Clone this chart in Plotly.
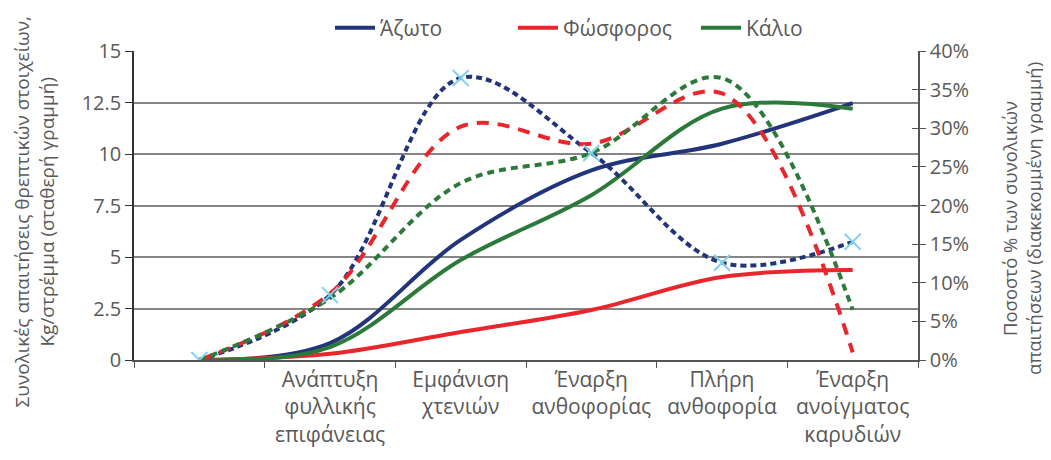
import plotly.graph_objects as go

categories = ["", "Ανάπτυξη<br>φυλλικής<br>επιφάνειας", "Εμφάνιση<br>χτενιών",
              "Έναρξη<br>ανθοφορίας", "Πλήρη<br>ανθοφορία", "Έναρξη<br>ανοίγματος<br>καρυδιών"]

# Total requirements, Kg/στρέμμα (solid lines, left axis)
n_total = [0, 0.82, 5.83, 9.2, 10.5, 12.47]
p_total = [0, 0.3, 1.36, 2.43, 4.03, 4.37]
k_total = [0, 0.63, 4.85, 8.0, 12.2, 12.2]

# Percentage of total requirements (dashed lines, right axis)
n_pct = [0, 8.4, 36.5, 26.8, 12.6, 15.3]
p_pct = [0, 8.6, 30.2, 28.0, 34.5, 1.0]
k_pct = [0, 8.0, 22.9, 26.8, 36.5, 6.5]

names = ["Άζωτο", "Φώσφορος", "Κάλιο"]
colors = ["#22357a", "#e8262b", "#2c7a3a"]
dashes = ["6px,4px", "12px,9px", "7px,5px"]

left_title = "Συνολικές απαιτήσεις θρεπτικών στοιχείων,<br>Kg/στρέμμα (σταθερή γραμμή)"
right_title = "Ποσοστό % των συνολικών<br>απαιτήσεων (διακεκομμένη γραμμή)"

FONT = "Open Sans"
TXT = "#595959"

fig = go.Figure()

for name, vals, col in zip(names, [n_total, p_total, k_total], colors):
    fig.add_trace(go.Scatter(x=categories, y=vals, name=name, mode="lines",
                             line=dict(color=col, width=4, shape="spline", smoothing=1),
                             yaxis="y"))

for name, vals, col, dsh in zip(names, [n_pct, p_pct, k_pct], colors, dashes):
    fig.add_trace(go.Scatter(x=categories, y=vals, name=name + " %", mode="lines",
                             line=dict(color=col, width=4, shape="spline", smoothing=1, dash=dsh),
                             yaxis="y2", showlegend=False))

fig.add_trace(go.Scatter(x=categories, y=n_pct, mode="markers", yaxis="y2", showlegend=False,
                         marker=dict(symbol="x-thin", size=16, color="#7fd3e6",
                                     line=dict(color="#7fd3e6", width=2))))

# dummy invisible trace to activate yaxis3 (inner ticks on right axis)
fig.add_trace(go.Scatter(x=[categories[0]], y=[None], yaxis="y3", showlegend=False,
                         hoverinfo="skip", mode="lines"))

fig.update_layout(
    width=1043, height=452,
    margin=dict(l=126, r=133, t=43, b=100, autoexpand=False),
    paper_bgcolor="white", plot_bgcolor="white",
    font=dict(family=FONT, size=20, color=TXT),
    showlegend=True,
    legend=dict(orientation="h", x=0.25, xanchor="left", y=1.074, yanchor="middle",
                font=dict(size=21, color=TXT), itemwidth=40, entrywidth=128,
                bgcolor="rgba(0,0,0,0)"),
    xaxis=dict(type="category", range=[-0.5, 5.5], showline=True, linecolor="#555555",
               linewidth=1.5, ticks="outside", tickson="boundaries", ticklen=6,
               tickcolor="#555555", showgrid=False, tickfont=dict(size=21, color=TXT)),
    yaxis=dict(range=[0, 15], dtick=2.5, showline=True, linecolor="#333333", linewidth=1.5,
               ticks="outside", ticklen=7, tickcolor="#333333", showgrid=True,
               gridcolor="#858585", gridwidth=1.5, zeroline=False,
               tickfont=dict(size=20, color=TXT)),
    yaxis2=dict(range=[0, 40], dtick=5, ticksuffix="%", overlaying="y", side="right",
                showline=True, linecolor="#555555", linewidth=1.5, ticks="outside", ticklen=6,
                tickcolor="#555555", showgrid=False, zeroline=False,
                tickfont=dict(size=20, color=TXT)),
    yaxis3=dict(range=[0, 40], dtick=5, overlaying="y", side="right", showline=False,
                ticks="inside", ticklen=6, tickcolor="#555555", showticklabels=False,
                showgrid=False, zeroline=False),
    annotations=[
        dict(text=left_title, xref="paper", yref="paper", x=-0.1257, y=0.479,
             xanchor="center", yanchor="middle", textangle=-90, showarrow=False,
             font=dict(size=19, color=TXT)),
        dict(text=right_title, xref="paper", yref="paper", x=1.1314, y=0.456,
             xanchor="center", yanchor="middle", textangle=-90, showarrow=False,
             font=dict(size=18.5, color=TXT)),
    ],
)

fig.write_html("out.html")
